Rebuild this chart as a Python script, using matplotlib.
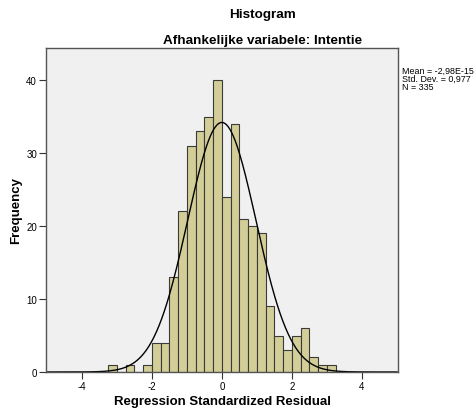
import numpy as np
import matplotlib
matplotlib.use("Agg")
import matplotlib.pyplot as plt

plt.rcParams['font.family'] = ['Liberation Sans', 'DejaVu Sans']
plt.rcParams['axes.unicode_minus'] = False

# histogram bins (width 0.25) and counts
bin_edges = [-3.25, -3.0, -2.75, -2.5, -2.25, -2.0, -1.75, -1.5, -1.25, -1.0,
             -0.75, -0.5, -0.25, 0.0, 0.25, 0.5, 0.75, 1.0, 1.25, 1.5,
             1.75, 2.0, 2.25, 2.5, 2.75, 3.0, 3.25]
counts = [1, 0, 1, 0, 1, 4, 4, 13, 22, 31,
          33, 35, 40, 24, 34, 21, 20, 19, 9, 5,
          3, 5, 6, 2, 1, 1]

mean_val = -2.98e-15
std_val = 0.977
n_obs = 335
bin_width = 0.25

x_ticks = [-4, -2, 0, 2, 4]
y_ticks = [0, 10, 20, 30, 40]

fig = plt.figure(figsize=(4.76, 4.14), dpi=100)
ax = fig.add_axes([46 / 476, 1 - 373 / 414, 352 / 476, 324 / 414])
ax.set_facecolor('#F0F0F0')

centers = [(a + b) / 2 for a, b in zip(bin_edges[:-1], bin_edges[1:])]
ax.hist(centers, bins=bin_edges, weights=counts, color='#D3CE97',
        edgecolor='#3A3A3A', linewidth=0.8)

# fitted normal curve
xs = np.linspace(-5, 5, 400)
ys = n_obs * bin_width * np.exp(-0.5 * ((xs - mean_val) / std_val) ** 2) / (std_val * np.sqrt(2 * np.pi))
ax.plot(xs, ys, color='black', linewidth=1.0)

ax.set_xlim(-5.02, 5.03)
ax.set_ylim(0, 44.4)
ax.set_xticks(x_ticks)
ax.set_yticks(y_ticks)
ax.tick_params(labelsize=7, length=5, width=0.8, color='#333333', pad=1.5)

for s in ax.spines.values():
    s.set_color('#555555')
    s.set_linewidth(1.0)

ax.set_xlabel('Regression Standardized Residual', fontsize=9.5, fontweight='bold', labelpad=3)
ax.set_ylabel('Frequency', fontsize=9.5, fontweight='bold', labelpad=3)

fig.text(263 / 476, 1 - 15 / 414, 'Histogram', ha='center', va='center',
         fontsize=9.7, fontweight='bold')
fig.text(263 / 476, 1 - 41 / 414, 'Afhankelijke variabele: Intentie', ha='center', va='center',
         fontsize=9.7, fontweight='bold')

fig.text(402 / 476, 1 - 67 / 414,
         'Mean = -2,98E-15\nStd. Dev. = 0,977\nN = 335',
         ha='left', va='top', fontsize=6.4, linespacing=0.85)

fig.savefig('out.png', dpi=100)
